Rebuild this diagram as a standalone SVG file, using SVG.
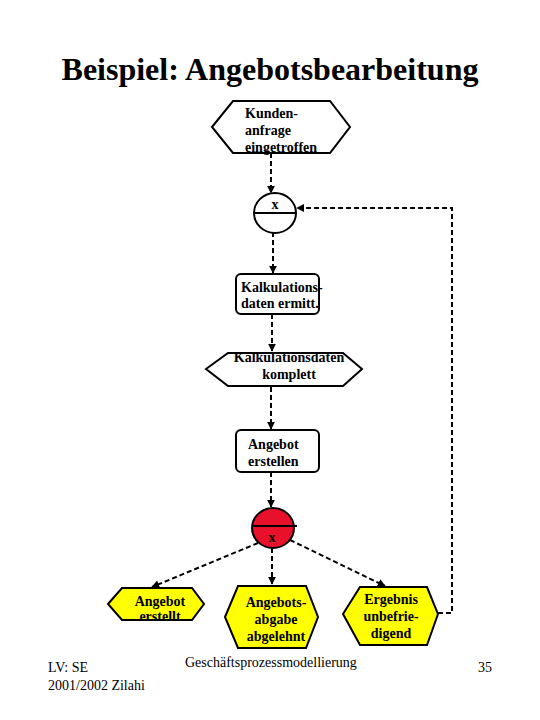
<svg xmlns="http://www.w3.org/2000/svg" width="540" height="720" viewBox="0 0 540 720" font-family="'Liberation Serif', 'Times New Roman', serif">
<defs>
<marker id="ah" viewBox="0 0 10 10" refX="9" refY="5" markerWidth="4" markerHeight="4" orient="auto" markerUnits="strokeWidth">
<path d="M0,0 L10,5 L0,10 z" fill="#000"/>
</marker>
<style>
.ntxt{font-family:"Liberation Serif",serif;font-size:14px;font-weight:bold;fill:#000}
.ftxt{font-family:"Liberation Serif",serif;font-size:14px;fill:#000}
.hx{fill:#fff;stroke:#000;stroke-width:2}
.hy{fill:#ffff00;stroke:#000;stroke-width:2}
.bx{fill:#fff;stroke:#000;stroke-width:2}
.conn{fill:none;stroke:#000;stroke-width:2;stroke-dasharray:5 3;marker-end:url(#ah)}
</style>
</defs>
<rect width="540" height="720" fill="#fff"/>
<text x="270" y="80" font-family="'Liberation Serif', serif" font-size="32" font-weight="bold" text-anchor="middle">Beispiel: Angebotsbearbeitung</text>

<g id="connectors">
<path class="conn" d="M271,153 L271,193"/>
<path class="conn" d="M273,232 L273,273"/>
<path class="conn" d="M272,314 L272,351"/>
<path class="conn" d="M271,387 L271,429"/>
<path class="conn" d="M271,472 L271,507"/>
<path class="conn" d="M258,543 L152,587"/>
<path class="conn" d="M272,548 L272,584"/>
<path class="conn" d="M290,540 L385,586"/>
<path class="conn" d="M438,613 L452,613 L452,208 L297,208"/>
</g>

<g id="n1">
<polygon class="hx" points="212,127 233,101 330,101 350,127 330,153 233,153"/>
<text class="ntxt" x="245" y="118">Kunden-</text>
<text class="ntxt" x="245" y="135">anfrage</text>
<text class="ntxt" x="245" y="152">eingetroffen</text>
</g>

<g id="x1">
<ellipse cx="275" cy="213" rx="21" ry="20" fill="#fff" stroke="#000" stroke-width="2"/>
<line x1="254" y1="213" x2="296" y2="213" stroke="#000" stroke-width="2"/>
<text class="ntxt" x="275" y="209" text-anchor="middle" font-size="13">x</text>
</g>

<g id="f1">
<rect class="bx" x="236" y="274" width="83" height="40" rx="5"/>
<text class="ntxt" x="241" y="292">Kalkulations-</text>
<text class="ntxt" x="241" y="308">daten ermitt.</text>
</g>

<g id="e2">
<polygon class="hx" points="206,369 228,353 343,353 362,369 343,386 228,386"/>
<text class="ntxt" x="289" y="362" text-anchor="middle">Kalkulationsdaten</text>
<text class="ntxt" x="289" y="379" text-anchor="middle">komplett</text>
</g>

<g id="f2">
<rect class="bx" x="236" y="430" width="83" height="42" rx="5"/>
<text class="ntxt" x="248" y="449">Angebot</text>
<text class="ntxt" x="248" y="466">erstellen</text>
</g>

<g id="x2">
<ellipse cx="273" cy="528" rx="21" ry="20" fill="#e8102a" stroke="#000" stroke-width="2"/>
<line x1="252" y1="526" x2="297" y2="526" stroke="#000" stroke-width="2"/>
<text class="ntxt" x="272" y="542" text-anchor="middle" font-size="13">x</text>
</g>

<g id="e3">
<polygon class="hy" points="108,604 122,588 192,588 204,604 192,620 122,620"/>
<text class="ntxt" x="160" y="606" text-anchor="middle">Angebot</text>
<text class="ntxt" x="160" y="621" text-anchor="middle">erstellt</text>
</g>

<g id="e4">
<polygon class="hy" points="225,617 238,586 306,586 318,617 306,648 238,648"/>
<text class="ntxt" x="276" y="607" text-anchor="middle">Angebots-</text>
<text class="ntxt" x="276" y="624" text-anchor="middle">abgabe</text>
<text class="ntxt" x="276" y="641" text-anchor="middle">abgelehnt</text>
</g>

<g id="e5">
<polygon class="hy" points="343,614 360,587 427,587 438,614 427,645 360,645"/>
<text class="ntxt" x="391" y="604" text-anchor="middle">Ergebnis</text>
<text class="ntxt" x="391" y="621" text-anchor="middle">unbefrie-</text>
<text class="ntxt" x="391" y="638" text-anchor="middle">digend</text>
</g>

<g id="footer">
<text class="ftxt" x="48" y="672">LV: SE</text>
<text class="ftxt" x="48" y="690">2001/2002 Zilahi</text>
<text class="ftxt" x="185" y="667">Geschäftsprozessmodellierung</text>
<text class="ftxt" x="478" y="672">35</text>
</g>
</svg>
